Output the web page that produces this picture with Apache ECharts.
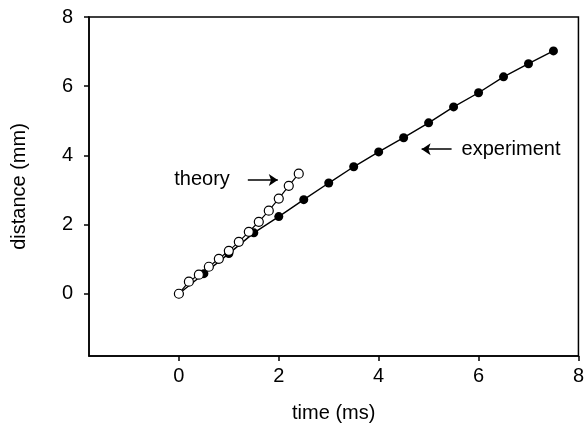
<!DOCTYPE html>
<html>
<head>
<meta charset="utf-8">
<script src="https://cdn.jsdelivr.net/npm/echarts@6/dist/echarts.min.js"></script>
<style>
  html, body { margin: 0; padding: 0; background: #fff; }
  #chart { width: 587px; height: 432px; }
</style>
</head>
<body>
<div id="chart"></div>
<script>
// experiment: filled dots, every 0.5 ms
var expTime = [0, 0.5, 1, 1.5, 2, 2.5, 3, 3.5, 4, 4.5, 5, 5.5, 6, 6.5, 7, 7.5]
var expDist = [0, 0.58, 1.16, 1.76, 2.23, 2.72, 3.2, 3.67, 4.1, 4.51, 4.94, 5.4, 5.81, 6.27, 6.65, 7.02]
// theory: open circles, every 0.2 ms
var thTime = [0, 0.2, 0.4, 0.6, 0.8, 1, 1.2, 1.4, 1.6, 1.8, 2, 2.2, 2.4]
var thDist = [0, 0.35, 0.55, 0.78, 1.01, 1.24, 1.5, 1.79, 2.08, 2.4, 2.75, 3.12, 3.47]
var tickValues = [0, 2, 4, 6, 8]

// arrow annotations (data coords)
var theoryArrow = [[1.38, 3.29], [1.98, 3.29]]
var expArrow = [[5.46, 4.18], [4.86, 4.18]]

function pairs(xs, ys) {
  return xs.map(function (x, i) { return [x, ys[i]] })
}

var font = '"Liberation Sans", Arial, sans-serif'
var chart = echarts.init(document.getElementById('chart'))
var axisCommon = {
  type: 'value',
  min: -1.8,
  max: 8,
  nameLocation: 'middle',
  nameTextStyle: { fontSize: 20, color: '#000', fontFamily: font },
  axisLine: { show: true, onZero: false, lineStyle: { color: '#000', width: 1.5 } },
  axisTick: { show: true, inside: false, length: 5, customValues: tickValues, lineStyle: { color: '#000', width: 1.5 } },
  axisLabel: { customValues: tickValues, fontSize: 20, color: '#000', fontFamily: font },
  splitLine: { show: false }
}

var option = {
  animation: false,
  grid: {
    left: 89, right: 8, top: 17, bottom: 76,
    show: true, borderColor: '#000', borderWidth: 1.5
  },
  xAxis: Object.assign({}, axisCommon, {
    name: 'time (ms)',
    nameGap: 47,
    axisLabel: Object.assign({}, axisCommon.axisLabel, { margin: 10 })
  }),
  yAxis: Object.assign({}, axisCommon, {
    name: 'distance (mm)',
    nameGap: 60,
    axisLabel: Object.assign({}, axisCommon.axisLabel, { margin: 16 })
  }),
  series: [
    {
      name: 'experiment',
      type: 'line',
      data: pairs(expTime, expDist),
      symbol: 'circle',
      symbolSize: 9,
      itemStyle: { color: '#000' },
      lineStyle: { color: '#000', width: 1.4 },
      z: 2,
      markLine: {
        silent: true,
        symbol: ['none', 'arrow'],
        symbolSize: 9,
        lineStyle: { color: '#000', width: 1.5, type: 'solid' },
        label: {
          show: true, position: 'start', distance: 10,
          formatter: 'experiment', fontSize: 20, color: '#000', fontFamily: font
        },
        data: [[{ coord: expArrow[0] }, { coord: expArrow[1] }]]
      }
    },
    {
      name: 'theory',
      type: 'line',
      data: pairs(thTime, thDist),
      symbol: 'circle',
      symbolSize: 9,
      itemStyle: { color: '#fff', borderColor: '#000', borderWidth: 1.2 },
      lineStyle: { color: '#000', width: 1.2 },
      z: 3,
      markLine: {
        silent: true,
        symbol: ['none', 'arrow'],
        symbolSize: 9,
        lineStyle: { color: '#000', width: 1.5, type: 'solid' },
        label: {
          show: true, position: 'start', distance: 18,
          formatter: 'theory', fontSize: 20, color: '#000', fontFamily: font
        },
        data: [[{ coord: theoryArrow[0] }, { coord: theoryArrow[1] }]]
      }
    }
  ]
}
chart.setOption(option)
</script>
</body>
</html>
